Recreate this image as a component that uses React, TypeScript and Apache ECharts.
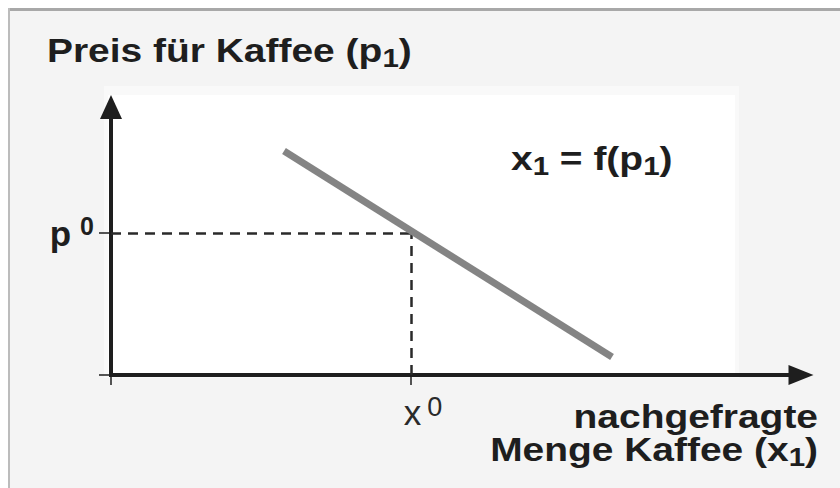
import React, { useEffect, useRef } from "react";
import * as echarts from "echarts";

const FONT = '"Liberation Sans", Arial, Helvetica, sans-serif';

// ---- data (arbitrary units) ----
const xRange = [0, 6.9];
const pRange = [0, 2.68];
const demandX = [1.73, 5.01];
const demandP = [2.24, 0.18];
const x0 = [3.0];
const p0 = [1.42];

// ---- texts ----
const yTitleMain = "Preis für Kaffee (p";
const yTitleSub = "1";
const xTitleLine1 = "nachgefragte";
const xTitleLine2 = "Menge Kaffee (x";
const xTitleSub = "1";
const eqLeft = "x";
const eqMid = " = f(p";
const eqSub = "1";
const pLabel = ["p", "0"];
const xLabel = ["x", "0"];

const INK = "#1e1e1e";
const STRETCH = 1.18;

const mainTok = { fontSize: 33, fontWeight: "bold", fontFamily: FONT, lineHeight: 40 };
const subTok = { fontSize: 25, fontWeight: "bold", fontFamily: FONT, lineHeight: 14, verticalAlign: "bottom" };

function richText(x: number, baseline: number, align: "left" | "right", text: string) {
  return {
    type: "text",
    x,
    y: baseline - 31.4,
    scaleX: STRETCH,
    z: 20,
    silent: true,
    style: {
      text,
      fill: INK,
      align,
      textAlign: align,
      verticalAlign: "top",
      textVerticalAlign: "top",
      rich: { m: mainTok, s: subTok },
    },
  };
}

function buildOption() {
  return {
    animation: false,
    backgroundColor: "#ffffff",
    grid: { left: 111, top: 107, width: 690, height: 268, containLabel: false },
    xAxis: {
      type: "value",
      min: xRange[0],
      max: xRange[1],
      axisLine: {
        show: true,
        onZero: false,
        symbol: ["none", "triangle"],
        symbolSize: [20, 25],
        lineStyle: { color: INK, width: 4, cap: "square" },
      },
      axisTick: { show: true, customValues: [xRange[0], ...x0], length: 10, lineStyle: { color: INK, width: 1.5 } },
      axisLabel: {
        show: true,
        customValues: x0,
        margin: 18,
        fontFamily: FONT,
        formatter: () => `{x|${xLabel[0]}}{s|${xLabel[1]}}`,
        rich: {
          x: { fontSize: 35, fontFamily: FONT, color: "#2a2a2a", lineHeight: 38, padding: [0, 0, 0, 24] },
          s: { fontSize: 27, fontFamily: FONT, color: "#2a2a2a", lineHeight: 16, verticalAlign: "top", padding: [0, 0, 0, 6] },
        },
      },
      splitLine: { show: false },
    },
    yAxis: {
      type: "value",
      min: pRange[0],
      max: pRange[1],
      axisLine: {
        show: true,
        onZero: false,
        symbol: ["none", "triangle"],
        symbolSize: [22, 24],
        lineStyle: { color: INK, width: 4, cap: "square" },
      },
      axisTick: { show: true, customValues: [pRange[0], ...p0], length: 12, lineStyle: { color: INK, width: 1.5 } },
      axisLabel: {
        show: true,
        customValues: p0,
        margin: 17,
        fontFamily: FONT,
        formatter: () => `{p|${pLabel[0]}}{s|${pLabel[1]}}`,
        rich: {
          p: { fontSize: 35, fontWeight: "bold", fontFamily: FONT, color: INK, lineHeight: 40 },
          s: { fontSize: 25, fontWeight: "bold", fontFamily: FONT, color: INK, lineHeight: 18, verticalAlign: "top", padding: [0, 0, 0, 9] },
        },
      },
      splitLine: { show: false },
    },
    series: [
      {
        type: "line",
        data: demandX.map((x, i) => [x, demandP[i]]),
        symbol: "none",
        silent: true,
        z: 5,
        lineStyle: { color: "#848484", width: 7, cap: "butt" },
        markLine: {
          silent: true,
          symbol: ["none", "none"],
          symbolSize: 0,
          label: { show: false },
          emphasis: { disabled: true },
          z: 3,
          lineStyle: { type: [10, 7], width: 2.5, color: "#2a2a2a" },
          data: [
            [{ coord: [xRange[0], p0[0]] }, { coord: [x0[0], p0[0]] }],
            [{ coord: [x0[0], pRange[0]] }, { coord: [x0[0], p0[0]] }],
          ],
        },
      },
    ],
    graphic: {
      elements: [
        { type: "rect", z: -10, silent: true, shape: { x: 8, y: 8, width: 832, height: 480 }, style: { fill: "#f4f4f4" } },
        { type: "rect", z: -9, silent: true, shape: { x: 8, y: 8, width: 832, height: 3 }, style: { fill: "#a8a8a8" } },
        { type: "rect", z: -9, silent: true, shape: { x: 8, y: 8, width: 2, height: 480 }, style: { fill: "#bcbcbc" } },
        { type: "rect", z: -8, silent: true, shape: { x: 104, y: 86, width: 635, height: 292 }, style: { fill: "#f9f9f9" } },
        { type: "rect", z: -7, silent: true, shape: { x: 108, y: 95, width: 627, height: 280 }, style: { fill: "#ffffff" } },
        richText(47, 62, "left", `{m|${yTitleMain}}{s|${yTitleSub}}{m|)}`),
        richText(511, 170, "left", `{m|${eqLeft}}{s|${eqSub}}{m|${eqMid}}{s|${eqSub}}{m|)}`),
        richText(818, 428, "right", `{m|${xTitleLine1}}`),
        richText(818, 461, "right", `{m|${xTitleLine2}}{s|${xTitleSub}}{m|)}`),
      ],
    },
  };
}

export default function App() {
  const ref = useRef<HTMLDivElement>(null);
  useEffect(() => {
    if (!ref.current) return;
    const chart = echarts.init(ref.current, null, { renderer: "svg" });
    chart.setOption(buildOption() as any);
    return () => chart.dispose();
  }, []);
  return <div ref={ref} style={{ position: "fixed", left: 0, top: 0, width: 840, height: 488 }} />;
}
